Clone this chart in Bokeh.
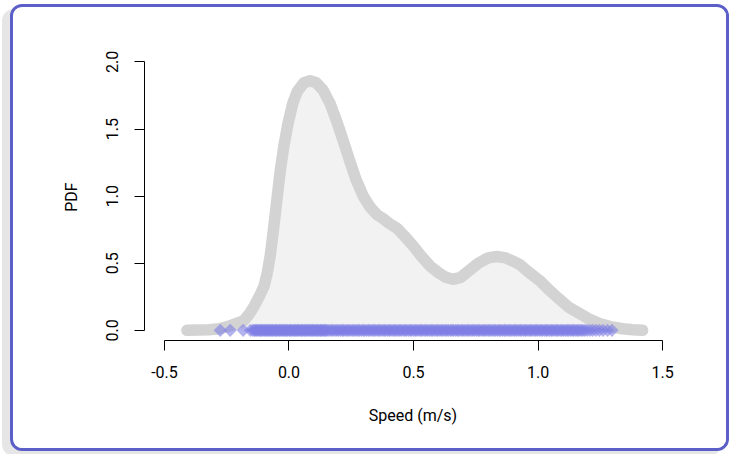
import math
from bokeh.plotting import figure
from bokeh.models import Range1d, FixedTicker, NumeralTickFormatter
from bokeh.embed import file_html
from bokeh.resources import INLINE

# ---- data ----
density_x = [-0.41, -0.32, -0.28, -0.247, -0.22, -0.183, -0.16, -0.14, -0.12, -0.10,
             -0.087, -0.075, -0.063, -0.05, -0.035, -0.02, -0.003, 0.015, 0.033, 0.06,
             0.085, 0.11, 0.137, 0.165, 0.193, 0.22, 0.246, 0.27, 0.298, 0.325,
             0.354, 0.38, 0.40, 0.434, 0.465, 0.498, 0.53, 0.566, 0.60, 0.63,
             0.658, 0.69, 0.72, 0.76, 0.80, 0.834, 0.87, 0.90, 0.927, 0.965,
             1.007, 1.045, 1.087, 1.125, 1.167, 1.205, 1.247, 1.29, 1.34, 1.38, 1.42]
density_y = [0.0, 0.005, 0.012, 0.028, 0.045, 0.07, 0.12, 0.18, 0.25, 0.33,
             0.43, 0.56, 0.74, 0.95, 1.19, 1.38, 1.55, 1.69, 1.78, 1.845,
             1.86, 1.845, 1.79, 1.69, 1.55, 1.40, 1.25, 1.12, 1.00, 0.92,
             0.86, 0.83, 0.80, 0.76, 0.70, 0.63, 0.555, 0.48, 0.43, 0.395,
             0.38, 0.395, 0.44, 0.50, 0.54, 0.55, 0.54, 0.515, 0.49, 0.43,
             0.37, 0.30, 0.23, 0.17, 0.125, 0.085, 0.05, 0.028, 0.012, 0.005, 0.0]

speeds = [-0.276, -0.236, -0.184, -0.155,
          -0.145, -0.140, -0.134, -0.129, -0.125, -0.119, -0.114, -0.110, -0.104, -0.099,
          -0.095, -0.089, -0.084, -0.080, -0.074, -0.069, -0.065, -0.059, -0.054, -0.050,
          -0.044, -0.039, -0.035, -0.029, -0.024, -0.020, -0.014, -0.009, -0.005, 0.001,
          0.006, 0.010, 0.016, 0.021, 0.025, 0.031, 0.036, 0.040, 0.046, 0.051,
          0.055, 0.061, 0.066, 0.070, 0.076, 0.081, 0.085, 0.091, 0.096, 0.100,
          0.106, 0.111, 0.115, 0.121, 0.126, 0.130, 0.136, 0.141, 0.145, 0.151,
          0.157, 0.165, 0.172, 0.178, 0.186, 0.193, 0.199, 0.207, 0.214, 0.220,
          0.228, 0.235, 0.241, 0.249, 0.256, 0.262, 0.270, 0.277, 0.283, 0.291,
          0.298, 0.304, 0.312, 0.319, 0.325, 0.333, 0.340, 0.346, 0.354, 0.361,
          0.367, 0.375, 0.382, 0.388, 0.396, 0.403, 0.409, 0.417, 0.424, 0.430,
          0.438, 0.445, 0.451, 0.459, 0.466, 0.472, 0.480, 0.487, 0.493, 0.501,
          0.508, 0.514, 0.522, 0.529, 0.535, 0.543, 0.550, 0.556, 0.564, 0.571,
          0.577, 0.585, 0.592, 0.598, 0.606, 0.613, 0.619, 0.627, 0.634, 0.640,
          0.648, 0.655, 0.661, 0.669, 0.676, 0.682, 0.690, 0.697, 0.703, 0.711,
          0.718, 0.724, 0.732, 0.739, 0.745, 0.753, 0.760, 0.766, 0.774, 0.781,
          0.787, 0.795, 0.802, 0.808, 0.816, 0.823, 0.829, 0.837, 0.844, 0.850,
          0.858, 0.865, 0.871, 0.879, 0.886, 0.892, 0.900, 0.907, 0.913, 0.921,
          0.928, 0.934, 0.942, 0.949, 0.955, 0.963, 0.970, 0.976, 0.984, 0.991,
          0.997, 1.005, 1.012, 1.018, 1.026, 1.033, 1.039, 1.047, 1.054, 1.060,
          1.068, 1.075, 1.081, 1.089, 1.096, 1.102, 1.110, 1.117, 1.123, 1.131,
          1.138, 1.144, 1.152, 1.159, 1.165, 1.173, 1.180,
          1.188, 1.197, 1.208, 1.219, 1.232, 1.246, 1.261, 1.279, 1.297]
speed_level = [0.0] * len(speeds)

x_ticks = [-0.5, 0.0, 0.5, 1.0, 1.5]
x_tick_labels = ["-0.5", "0.0", "0.5", "1.0", "1.5"]
y_ticks = [0.0, 0.5, 1.0, 1.5, 2.0]
y_tick_labels = ["0.0", "0.5", "1.0", "1.5", "2.0"]
x_label = "Speed (m/s)"
y_label = "PDF"

FONT = "Roboto"

p = figure(width=713, height=441, output_backend="svg", toolbar_location=None,
           x_range=Range1d(-0.5802, 1.5761), y_range=Range1d(-0.0758, 2.0631),
           min_border_left=131, min_border_right=51, min_border_top=46,
           min_border_bottom=114,
           styles={"border": "3.5px solid #5b5fc7", "border-radius": "12px",
                   "box-shadow": "-8px 5px 0 0 #e6e6e6", "overflow": "hidden",
                   "margin-left": "9.5px", "margin-top": "4px",
                   "box-sizing": "content-box", "background": "white"})
p.grid.visible = False
p.outline_line_color = None
p.background_fill_color = None
p.border_fill_color = "white"

# density
p.varea(x=density_x, y1=0, y2=density_y, fill_color="#f2f2f2")
p.line(density_x, density_y, line_width=11.5, line_color="#d3d3d3",
       line_cap="round", line_join="round")
p.scatter(x=speeds, y=speed_level, marker="square", angle=math.pi / 4, size=9.3,
          fill_color="#7f7fe4", fill_alpha=0.6, line_color=None)

xa = p.xaxis[0]
ya = p.yaxis[0]
xa.ticker = FixedTicker(ticks=x_ticks)
ya.ticker = FixedTicker(ticks=y_ticks)
xa.formatter = NumeralTickFormatter(format="0.0")
ya.formatter = NumeralTickFormatter(format="0.0")
xa.major_label_overrides = dict(zip(x_ticks, x_tick_labels))
ya.major_label_overrides = dict(zip(y_ticks, y_tick_labels))
xa.bounds = (-0.5, 1.5)
ya.bounds = (0.0, 2.0)
xa.axis_label = x_label
ya.axis_label = y_label
for ax in (xa, ya):
    ax.axis_line_color = "black"
    ax.axis_line_width = 1
    ax.major_tick_line_color = "black"
    ax.major_tick_out = 10
    ax.major_tick_in = 0
    ax.minor_tick_line_color = None
    ax.major_label_text_font = FONT
    ax.major_label_text_font_size = "16px"
    ax.major_label_text_color = "black"
    ax.axis_label_text_font = FONT
    ax.axis_label_text_font_size = "16px"
    ax.axis_label_text_font_style = "normal"
    ax.axis_label_text_color = "black"
ya.major_label_orientation = "vertical"
xa.major_label_standoff = 15
ya.major_label_standoff = 16
xa.axis_label_standoff = 25
ya.axis_label_standoff = 23

open("out.html", "w").write(file_html(p, INLINE))
